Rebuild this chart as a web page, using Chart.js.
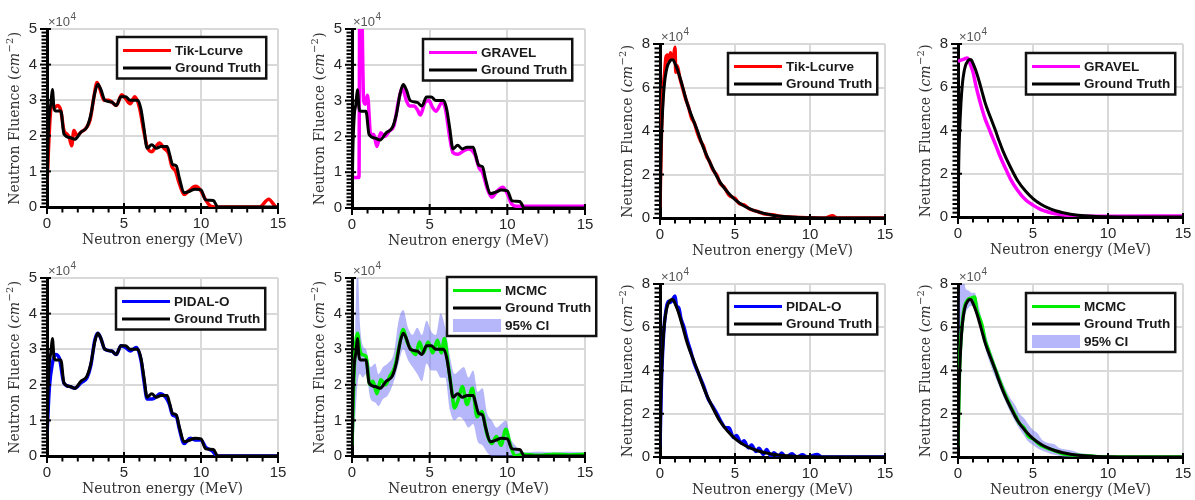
<!DOCTYPE html>
<html>
<head>
<meta charset="utf-8">
<script src="https://cdn.jsdelivr.net/npm/chart.js@4.4.1/dist/chart.umd.min.js"></script>
<style>
  html, body { margin: 0; padding: 0; background: #fff; }
  body { width: 1195px; height: 500px; position: relative; overflow: hidden; }
  canvas { position: absolute; }
</style>
</head>
<body>
<canvas id="c1"></canvas><canvas id="c2"></canvas><canvas id="c3"></canvas><canvas id="c4"></canvas>
<canvas id="c5"></canvas><canvas id="c6"></canvas><canvas id="c7"></canvas><canvas id="c8"></canvas>
<script>
// ---- spectrum A (step-like), fluence in units of 1e4 cm^-2 ----
const gtStepE = [0,0.05,0.15,0.25,0.35,0.45,0.55,0.9,1.1,1.5,1.8,2.2,2.6,2.85,3.1,3.3,3.5,3.75,4.2,4.5,4.8,5.1,5.4,5.9,6.1,6.3,6.5,6.8,7.1,7.4,7.8,7.95,8.15,8.4,8.6,8.9,9.3,9.6,10.0,10.3,10.8,11.1,15];
const gtStepY = [0,1.5,2.6,2.9,3.3,2.8,2.7,2.7,2.05,1.95,1.9,2.1,2.25,2.6,3.2,3.45,3.3,3.0,2.95,2.85,3.1,3.1,3.0,3.0,2.75,2.2,1.65,1.75,1.65,1.7,1.7,1.5,1.2,1.15,0.8,0.4,0.45,0.5,0.48,0.2,0.18,0,0];

const tikStepE = [0,0.2,0.3,0.5,0.7,0.9,1.1,1.3,1.45,1.6,1.75,1.95,2.2,2.5,2.8,3.05,3.25,3.45,3.7,4.0,4.2,4.5,4.85,5.1,5.4,5.7,6.0,6.3,6.5,6.8,7.0,7.3,7.6,7.9,8.1,8.35,8.6,8.9,9.2,9.65,10.0,10.3,10.6,10.9,13.8,14.4,14.9,15];
const tikStepY = [0.65,2.5,2.85,2.8,2.85,2.7,2.15,2.05,1.95,1.72,2.15,2.0,2.1,2.2,2.45,3.1,3.5,3.3,3.0,3.0,2.95,2.85,3.15,3.05,2.9,3.1,2.8,2.1,1.7,1.55,1.65,1.8,1.65,1.5,1.15,1.0,0.65,0.35,0.45,0.58,0.45,0.2,0.03,0,0,0.22,0,0];

const gravelStepE = [0,0.45,0.5,0.6,0.75,0.85,1.0,1.2,1.4,1.6,1.85,2.1,2.4,2.7,3.0,3.25,3.5,3.7,4.0,4.2,4.4,4.7,4.95,5.2,5.4,5.8,6.0,6.3,6.5,6.8,7.2,7.5,7.9,8.2,8.4,8.7,9.0,9.3,9.7,10.0,10.3,10.6,15];
const gravelStepY = [0.85,0.85,6.0,6.0,3.0,2.9,3.15,2.05,2.05,1.72,2.1,2.0,2.15,2.3,3.0,3.35,3.0,2.85,2.85,2.75,2.6,2.95,3.0,2.8,2.7,2.95,2.8,1.95,1.55,1.5,1.6,1.65,1.5,1.1,1.0,0.55,0.3,0.45,0.58,0.4,0.1,0.05,0.05];

const pidalStepE = [0,0.15,0.35,0.55,0.8,1.1,1.5,1.8,2.2,2.6,2.85,3.1,3.3,3.5,3.75,4.2,4.5,4.8,5.1,5.4,5.8,6.1,6.3,6.5,6.8,7.05,7.35,7.7,7.95,8.15,8.4,8.6,8.9,9.3,9.6,10.0,10.3,10.7,11.1,15];
const pidalStepY = [0.6,1.9,2.6,2.85,2.75,2.05,1.95,1.9,2.05,2.2,2.55,3.25,3.45,3.3,3.0,2.95,2.85,3.1,3.05,2.95,3.05,2.7,2.1,1.6,1.6,1.65,1.75,1.65,1.45,1.15,1.1,0.75,0.35,0.5,0.45,0.45,0.25,0.15,0,0];

const mcmcStepE = [0,0.15,0.35,0.5,0.65,0.9,1.15,1.35,1.6,1.85,2.15,2.45,2.75,3.0,3.3,3.55,3.8,4.1,4.35,4.6,4.9,5.2,5.5,5.75,5.95,6.15,6.4,6.6,6.85,7.1,7.4,7.75,8.05,8.35,8.7,9.0,9.3,9.6,9.9,10.2,10.5,11,12,13,14,15];
const mcmcStepY = [0.3,2.5,3.45,3.0,2.85,2.8,2.0,2.1,1.75,2.15,2.0,2.25,2.5,3.0,3.55,3.2,3.0,2.85,3.2,2.9,3.2,2.9,3.25,2.9,3.3,2.7,1.9,1.35,1.6,1.95,1.45,1.9,1.1,1.25,0.6,0.35,0.55,0.3,0.75,0.3,0,0.05,0.02,0.05,0.03,0.05];

const ciStepE  = [0,0.2,0.35,0.5,0.7,0.9,1.2,1.5,1.7,2.0,2.3,2.7,3.0,3.3,3.6,3.9,4.2,4.5,4.8,5.1,5.4,5.7,6.0,6.3,6.6,6.9,7.2,7.5,7.8,8.1,8.4,8.7,9.0,9.3,9.6,9.9,10.2,10.5,10.8,11.2,12,13,14,15];
const ciStepHi = [0.5,3.5,5.5,3.8,3.1,3.0,2.5,2.6,2.3,2.5,2.6,2.9,3.8,4.1,3.6,3.4,3.6,3.4,3.8,3.5,3.4,4.0,3.6,2.8,2.3,2.4,2.5,2.2,2.4,1.8,1.9,1.2,1.0,0.8,0.9,1.0,0.5,0.3,0.15,0.1,0.12,0.1,0.12,0.1];
const ciStepLo = [0,1.0,2.0,2.3,2.2,2.3,1.6,1.5,1.4,1.6,1.7,2.1,2.6,3.0,2.7,2.5,2.3,2.1,2.6,2.4,2.4,2.2,2.2,1.3,1.0,1.1,1.0,0.8,0.9,0.4,0.3,0.1,0,0,0,0,0,0,0,0,0,0,0,0];

// ---- spectrum B (smooth) ----
const gtSmoothE = [0,0.05,0.1,0.2,0.3,0.4,0.5,0.6,0.7,0.8,0.9,1.0,1.2,1.4,1.6,1.8,2.0,2.25,2.5,2.75,3.0,3.5,4.0,4.5,5.0,5.5,6.0,6.5,7.0,7.5,8.0,9.0,10,11,12,15];
const gtSmoothY = [0,2.5,3.8,5.3,6.2,6.7,7.0,7.15,7.25,7.28,7.25,7.1,6.75,6.3,5.8,5.3,4.9,4.45,4.0,3.5,3.05,2.3,1.65,1.2,0.85,0.6,0.42,0.29,0.2,0.13,0.085,0.035,0.012,0.004,0,0];

const tikSmoothE = [0,0.1,0.2,0.3,0.4,0.5,0.6,0.7,0.8,0.9,1.0,1.05,1.15,1.3,1.5,1.7,1.9,2.1,2.3,2.5,2.7,2.9,3.1,3.3,3.5,3.8,4.0,4.3,4.6,5.0,5.3,5.6,6.0,6.5,7.0,7.5,8,9,10,11,11.5,11.8,15];
const tikSmoothY = [0.5,4.0,5.8,6.6,7.4,7.5,7.2,7.6,7.3,7.4,7.85,6.7,7.0,6.5,6.0,5.5,5.1,4.6,4.35,3.9,3.55,3.3,2.85,2.6,2.25,1.95,1.6,1.4,1.05,0.9,0.65,0.6,0.4,0.3,0.18,0.15,0.08,0.03,0.01,0,0.1,0,0];

const gravelSmoothE = [0,0.2,0.4,0.6,0.7,0.8,1.0,1.2,1.4,1.6,1.8,2.0,2.2,2.5,2.75,3.0,3.3,3.5,4.0,4.5,5.0,5.5,6.0,6.5,7.0,8.0,9.0,10,15];
const gravelSmoothY = [7.2,7.25,7.3,7.35,7.3,7.1,6.7,6.05,5.5,5.0,4.55,4.2,3.85,3.35,2.9,2.5,2.05,1.75,1.2,0.8,0.55,0.35,0.23,0.15,0.1,0.05,0.03,0.04,0.05];

const pidalSmoothE = [0,0.1,0.25,0.4,0.55,0.7,0.85,1.0,1.1,1.25,1.4,1.6,1.8,2.0,2.3,2.6,2.9,3.2,3.5,3.8,4.1,4.4,4.6,4.9,5.1,5.4,5.6,5.9,6.1,6.4,6.6,6.9,7.1,7.4,7.6,7.9,8.1,8.4,8.8,9.1,9.5,9.8,10.5,10.8,15];
const pidalSmoothY = [0.5,3.5,5.8,6.8,7.2,7.15,7.3,7.45,7.0,6.9,6.4,6.0,5.45,5.0,4.3,3.8,3.3,2.7,2.35,2.0,1.6,1.35,1.35,0.9,1.0,0.65,0.75,0.42,0.55,0.25,0.4,0.12,0.35,0.05,0.2,0.02,0.18,0,0.15,0,0.1,0,0.12,0,0];

const mcmcSmoothE = [0,0.1,0.2,0.35,0.5,0.7,0.9,1.1,1.25,1.4,1.6,1.8,2.0,2.3,2.6,2.9,3.2,3.5,3.8,4.1,4.4,4.7,5.0,5.4,5.8,6.2,6.6,7.0,7.5,8,9,10,15];
const mcmcSmoothY = [0.5,4.0,5.5,6.6,7.1,7.3,7.35,7.4,6.8,6.5,6.1,5.4,5.0,4.4,3.85,3.3,2.8,2.35,1.95,1.55,1.35,0.95,0.85,0.6,0.45,0.35,0.25,0.15,0.1,0.08,0.03,0,0];

const ciSmoothE  = [0,0.1,0.2,0.35,0.5,0.7,0.9,1.1,1.3,1.5,1.8,2.0,2.3,2.6,2.9,3.2,3.5,3.8,4.1,4.4,4.7,5.0,5.3,5.6,6.0,6.4,6.8,7.2,7.6,8.0,8.5,9.0,9.5,10,15];
const ciSmoothHi = [1.5,7.0,8.6,8.6,7.8,7.7,7.6,7.6,7.2,6.6,5.8,5.3,4.7,4.1,3.6,3.1,2.7,2.4,2.0,1.8,1.5,1.25,1.1,0.8,0.65,0.6,0.4,0.35,0.3,0.2,0.15,0.1,0.08,0.02,0];
const ciSmoothLo = [0,1.0,4.0,5.8,6.6,6.9,7.0,6.9,6.5,6.0,5.1,4.6,4.0,3.5,3.0,2.5,2.05,1.65,1.3,1.0,0.7,0.55,0.4,0.3,0.2,0.1,0.05,0,0,0,0,0,0,0,0];

// ---- helpers ----
const SERIF = '"DejaVu Serif", serif';
const SANS = '"Liberation Sans", Arial, sans-serif';
const pts = (E, Y) => E.map((e, i) => ({ x: e, y: Y[i] }));

function line(label, E, Y, color, width, rank) {
  return {
    label, data: pts(E, Y), borderColor: color, backgroundColor: color,
    borderWidth: width, pointRadius: 0, fill: false, legendRank: rank,
    cubicInterpolationMode: 'monotone', borderJoinStyle: 'round'
  };
}
function band(E, lo, hi) {
  return [
    { label: '95% CI', data: pts(E, hi), borderWidth: 0, borderColor: 'rgba(0,0,0,0)',
      backgroundColor: 'rgba(110,110,245,0.5)', pointRadius: 0, fill: '+1', legendRank: 3,
      legendBox: true, cubicInterpolationMode: 'monotone' },
    { label: '', data: pts(E, lo), borderWidth: 0, borderColor: 'rgba(0,0,0,0)',
      pointRadius: 0, fill: false, cubicInterpolationMode: 'monotone' }
  ];
}

const RED = '#ff0000', MAG = '#ff00ff', BLUE = '#0000ff', GREEN = '#00ee00';

const panels = [
  { id: 'c1', box: [47, 29, 278, 207], ymax: 5, ystep: 1, yminor: 0.1, leg: [70, 8],
    sets: [line('Ground Truth', gtStepE, gtStepY, '#000', 3, 2), line('Tik-Lcurve', tikStepE, tikStepY, RED, 3.5, 1)] },
  { id: 'c2', box: [352, 29, 585, 208], ymax: 5, ystep: 1, yminor: 0.1, leg: [71, 10],
    sets: [line('Ground Truth', gtStepE, gtStepY, '#000', 3, 2), line('GRAVEL', gravelStepE, gravelStepY, MAG, 3.5, 1)] },
  { id: 'c3', box: [660, 44, 885, 218], ymax: 8, ystep: 2, yminor: 0.2, leg: [68, 9],
    sets: [line('Ground Truth', gtSmoothE, gtSmoothY, '#000', 3, 2), line('Tik-Lcurve', tikSmoothE, tikSmoothY, RED, 3.5, 1)] },
  { id: 'c4', box: [958, 44, 1183, 217], ymax: 8, ystep: 2, yminor: 0.2, leg: [68, 9],
    sets: [line('Ground Truth', gtSmoothE, gtSmoothY, '#000', 3, 2), line('GRAVEL', gravelSmoothE, gravelSmoothY, MAG, 3.5, 1)] },
  { id: 'c5', box: [47, 278, 278, 456], ymax: 5, ystep: 1, yminor: 0.1, leg: [69, 10],
    sets: [line('Ground Truth', gtStepE, gtStepY, '#000', 3, 2), line('PIDAL-O', pidalStepE, pidalStepY, BLUE, 3.5, 1)] },
  { id: 'c6', box: [352, 278, 585, 456], ymax: 5, ystep: 1, yminor: 0.1, leg: [95, -1],
    sets: [line('Ground Truth', gtStepE, gtStepY, '#000', 3, 2), line('MCMC', mcmcStepE, mcmcStepY, GREEN, 3.5, 1),
           ...band(ciStepE, ciStepLo, ciStepHi)] },
  { id: 'c7', box: [660, 284, 885, 457], ymax: 8, ystep: 2, yminor: 0.2, leg: [68, 9],
    sets: [line('Ground Truth', gtSmoothE, gtSmoothY, '#000', 3, 2), line('PIDAL-O', pidalSmoothE, pidalSmoothY, BLUE, 3.5, 1)] },
  { id: 'c8', box: [958, 284, 1183, 457], ymax: 8, ystep: 2, yminor: 0.2, leg: [68, 9],
    sets: [line('Ground Truth', gtSmoothE, gtSmoothY, '#000', 3, 2), line('MCMC', mcmcSmoothE, mcmcSmoothY, GREEN, 3.5, 1),
           ...band(ciSmoothE, ciSmoothLo, ciSmoothHi)] }
];

// axes decorations, titles and the boxed legend
const decor = {
  id: 'decor',
  afterDraw(chart) {
    const o = chart.options.plugins.decor;
    const ctx = chart.ctx, a = chart.chartArea, xs = chart.scales.x, ys = chart.scales.y;
    ctx.save();
    ctx.strokeStyle = '#000';
    ctx.lineWidth = 2;
    for (let v = 0; v <= 15; v++) {
      const p = xs.getPixelForValue(v), major = v % 5 === 0;
      ctx.beginPath();
      ctx.moveTo(p, major ? a.bottom - 4 : a.bottom);
      ctx.lineTo(p, a.bottom + (major ? 7 : 5.5));
      ctx.stroke();
    }
    const n = Math.round(o.ymax / o.yminor);
    for (let i = 0; i <= n; i++) {
      const v = i * o.yminor, p = ys.getPixelForValue(v);
      const major = Math.abs(v / o.ystep - Math.round(v / o.ystep)) < 1e-6;
      ctx.beginPath();
      ctx.moveTo(major ? a.left + 4 : a.left, p);
      ctx.lineTo(a.left - (major ? 7 : 5.5), p);
      ctx.stroke();
    }

    // x10^4 multiplier
    ctx.fillStyle = '#555';
    ctx.textBaseline = 'alphabetic';
    ctx.textAlign = 'left';
    ctx.font = '13px ' + SANS;
    ctx.fillText('\u00d710', a.left + 1, a.top - 3);
    const w10 = ctx.measureText('\u00d710').width;
    ctx.font = '10px ' + SANS;
    ctx.fillText('4', a.left + 1 + w10 + 0.5, a.top - 9);

    // x title
    ctx.fillStyle = '#333';
    ctx.font = '14px ' + SERIF;
    ctx.textAlign = 'center';
    ctx.textBaseline = 'middle';
    ctx.fillText('Neutron energy (MeV)', (a.left + a.right) / 2, a.bottom + 33);

    // y title with italic unit and superscript
    const parts = [
      ['Neutron Fluence (', '14px ' + SERIF, 0],
      ['cm', 'italic 14px ' + SERIF, 0],
      ['\u22122', '10px ' + SERIF, -5],
      [')', '14px ' + SERIF, 0]
    ];
    let total = 0;
    parts.forEach(p => { ctx.font = p[1]; total += ctx.measureText(p[0]).width + 0.5; });
    ctx.translate(a.left - 32, (a.top + a.bottom) / 2);
    ctx.rotate(-Math.PI / 2);
    ctx.textAlign = 'left';
    let cx = -total / 2;
    parts.forEach(p => { ctx.font = p[1]; ctx.fillText(p[0], cx, p[2]); cx += ctx.measureText(p[0]).width + 0.5; });
    ctx.setTransform(1, 0, 0, 1, 0, 0);

    // legend
    const items = chart.data.datasets.filter(d => d.label).sort((p, q) => p.legendRank - q.legendRank);
    ctx.font = 'bold 13.5px ' + SANS;
    const tw = Math.max(...items.map(d => ctx.measureText(d.label).width));
    const lx = a.left + o.leg[0], ly = a.top + o.leg[1];
    const bw = 6 + 48 + 4 + tw + 5, bh = 13.5 + 17.5 * (items.length - 1) + 10.5;
    ctx.fillStyle = '#fff';
    ctx.fillRect(lx, ly, bw, bh);
    items.forEach((d, i) => {
      const yy = ly + 13.5 + 17.5 * i;
      if (d.legendBox) {
        ctx.fillStyle = d.backgroundColor;
        ctx.fillRect(lx + 6, yy - 6.5, 48, 13);
      } else {
        ctx.strokeStyle = d.borderColor;
        ctx.lineWidth = 3;
        ctx.beginPath(); ctx.moveTo(lx + 6, yy); ctx.lineTo(lx + 54, yy); ctx.stroke();
      }
      ctx.fillStyle = '#1a1a1a';
      ctx.textAlign = 'left';
      ctx.textBaseline = 'middle';
      ctx.fillText(d.label, lx + 58, yy + 0.5);
    });
    ctx.strokeStyle = '#111';
    ctx.lineWidth = 2.5;
    ctx.strokeRect(lx, ly, bw, bh);
    ctx.restore();
  }
};

const PAD_L = 45, PAD_T = 22, PAD_B = 42;

panels.forEach(p => {
  const [L, T, R, B] = p.box;
  const padR = Math.min(18, 1195 - R);
  const cv = document.getElementById(p.id);
  cv.width = (R - L) + PAD_L + padR;
  cv.height = (B - T) + PAD_T + PAD_B;
  cv.style.left = (L - PAD_L) + 'px';
  cv.style.top = (T - PAD_T) + 'px';

  new Chart(cv, {
    type: 'line',
    data: { datasets: p.sets },
    plugins: [decor],
    options: {
      responsive: false,
      animation: false,
      events: [],
      layout: { padding: { left: 0, top: PAD_T, right: padR, bottom: 0 } },
      plugins: {
        legend: { display: false },
        tooltip: { enabled: false },
        filler: { propagate: false },
        decor: { ymax: p.ymax, ystep: p.ystep, yminor: p.yminor, leg: p.leg }
      },
      scales: {
        x: {
          type: 'linear', min: 0, max: 15,
          ticks: { stepSize: 5, padding: 8, color: '#262626', font: { family: SANS, size: 15 }, maxRotation: 0 },
          grid: { color: '#d9d9d9', lineWidth: 2, drawTicks: false },
          border: { display: true, color: '#000', width: 3 },
          afterFit: s => { s.height = PAD_B; s.paddingLeft = 0; s.paddingRight = 0; }
        },
        y: {
          min: 0, max: p.ymax,
          ticks: { stepSize: p.ystep, padding: 10, color: '#262626', font: { family: SANS, size: 15 } },
          grid: { color: '#d9d9d9', lineWidth: 2, drawTicks: false },
          border: { display: true, color: '#000', width: 3 },
          afterFit: s => { s.width = PAD_L; s.paddingTop = 0; s.paddingBottom = 0; }
        }
      }
    }
  });
});
</script>
</body>
</html>
